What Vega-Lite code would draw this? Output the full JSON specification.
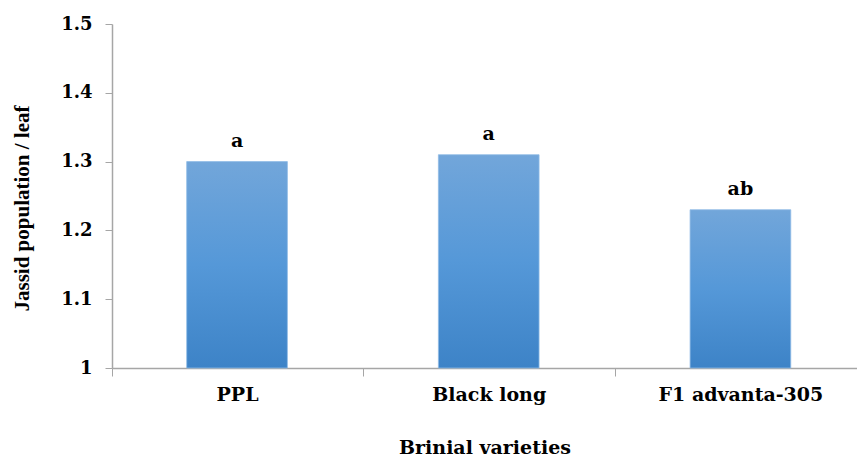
{
  "$schema": "https://vega.github.io/schema/vega-lite/v6.json",
  "autosize": "none",
  "width": 745,
  "height": 344,
  "padding": {"left": 112, "top": 24, "right": 0, "bottom": 91},
  "background": "white",
  "config": {"view": {"stroke": null}},
  "data": {"values": [
    {"variety": "PPL", "jassid": 1.30, "group": "a"},
    {"variety": "Black long", "jassid": 1.31, "group": "a"},
    {"variety": "F1 advanta-305", "jassid": 1.23, "group": "ab"}
  ]},
  "encoding": {
    "x": {
      "field": "variety", "type": "nominal", "sort": null,
      "scale": {"paddingInner": 0.6, "paddingOuter": 0.28, "align": 0.53},
      "axis": {
        "title": "Brinial varieties", "labelAngle": 0,
        "labelFont": "DejaVu Serif", "labelFontWeight": "bold", "labelFontSize": 19, "labelColor": "#000",
        "labelPadding": 9, "tickOffset": -125.5, "labelOffset": 125.5,
        "titleFont": "DejaVu Serif", "titleFontWeight": "bold", "titleFontSize": 19, "titleColor": "#000",
        "titlePadding": 34,
        "domainColor": "#a6a6a6", "tickColor": "#a6a6a6", "tickSize": 8,
        "domainWidth": 1.5
      }
    },
    "y": {
      "field": "jassid", "type": "quantitative",
      "scale": {"domain": [1, 1.5], "zero": false, "nice": false},
      "axis": {
        "title": "Jassid population / leaf", "values": [1, 1.1, 1.2, 1.3, 1.4, 1.5], "format": "~g",
        "grid": false,
        "labelFont": "DejaVu Serif", "labelFontWeight": "bold", "labelFontSize": 18, "labelColor": "#000",
        "labelPadding": 13,
        "titleFont": "Liberation Serif", "titleFontWeight": "bold", "titleFontSize": 21, "titleColor": "#000",
        "titleX": -80, "titleY": 184,
        "domainColor": "#a6a6a6", "tickColor": "#a6a6a6", "tickSize": 7, "domainWidth": 1.5
      }
    }
  },
  "layer": [
    {
      "mark": {
        "type": "bar",
        "color": {
          "gradient": "linear", "x1": 0, "y1": 0, "x2": 0, "y2": 1,
          "stops": [
            {"offset": 0, "color": "#72a6da"},
            {"offset": 0.5, "color": "#5598d8"},
            {"offset": 1, "color": "#3d83c7"}
          ]
        },
        "stroke": "#8fbbe6", "strokeWidth": 0.8
      },
      "encoding": {"y2": {"datum": 1}}
    },
    {
      "mark": {"type": "text", "baseline": "alphabetic", "dy": -15,
        "font": "DejaVu Serif", "fontWeight": "bold", "fontSize": 19, "color": "#000"},
      "encoding": {"text": {"field": "group"}}
    }
  ]
}
